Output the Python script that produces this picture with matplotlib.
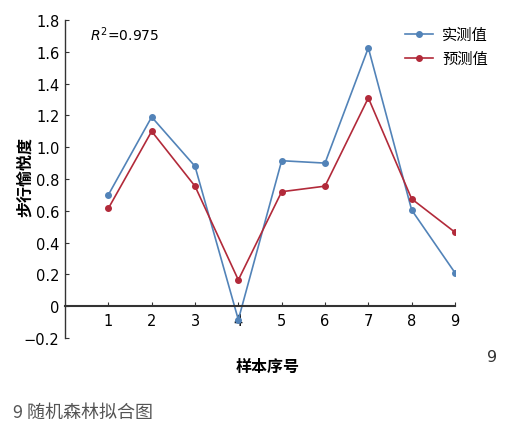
import matplotlib
matplotlib.use("Agg")
import matplotlib.pyplot as plt

plt.rcParams['font.family'] = ['Noto Sans CJK SC', 'DejaVu Sans']

samples = [1, 2, 3, 4, 5, 6, 7, 8, 9]
measured = [0.70, 1.19, 0.88, -0.085, 0.915, 0.90, 1.625, 0.605, 0.21]
predicted = [0.615, 1.10, 0.755, 0.165, 0.72, 0.755, 1.31, 0.675, 0.465]
yticks = [-0.2, 0, 0.2, 0.4, 0.6, 0.8, 1.0, 1.2, 1.4, 1.6, 1.8]
ytick_labels = ['\u22120.2', '0', '0.2', '0.4', '0.6', '0.8', '1.0', '1.2', '1.4', '1.6', '1.8']

W, H = 529, 427
fig = plt.figure(figsize=(W / 100, H / 100), dpi=100)
ax = fig.add_axes([65 / W, (H - 339) / H, (455 - 65) / W, (339 - 21) / H])

blue = '#5283b8'
red = '#b22a3a'
ax.plot(samples, measured, color=blue, lw=1.2, marker='o', ms=4, label='实测值')
ax.plot(samples, predicted, color=red, lw=1.2, marker='o', ms=4, label='预测值')

ax.set_xlim(0, 9)
ax.set_ylim(-0.2, 1.8)
ax.spines['top'].set_visible(False)
ax.spines['right'].set_visible(False)
ax.spines['bottom'].set_position(('data', 0))
ax.spines['bottom'].set_linewidth(1.5)
ax.spines['bottom'].set_color('#333333')
ax.spines['left'].set_linewidth(1.0)
ax.spines['left'].set_color('#333333')

ax.set_xticks(samples)
ax.set_xticklabels([str(s) for s in samples], fontsize=10.5, family=['DejaVu Sans'])
ax.set_yticks(yticks)
ax.set_yticklabels(ytick_labels, fontsize=10.5, family=['DejaVu Sans'])
ax.tick_params(axis='x', direction='in', length=3, pad=5, color='#333333')
ax.tick_params(axis='y', direction='in', length=3, pad=4, color='#333333')

leg = ax.legend(loc='upper left', bbox_to_anchor=((405 - 65) / 390, (339 - 27) / 318),
                frameon=False, fontsize=11, handlelength=1.85, handletextpad=0.6,
                labelspacing=0.45, borderpad=0, borderaxespad=0)

ax.text(0.065, 0.958, r'$R^2$=0.975', transform=ax.transAxes, fontsize=10,
        ha='left', va='center', family=['DejaVu Sans'])

fig.text(268 / W, 1 - 367 / H, '样本序号', ha='center', va='center', fontsize=11.5, fontweight='bold')
fig.text(25 / W, 1 - 177 / H, '步行愉悦度', ha='center', va='center', fontsize=11.5,
         fontweight='bold', rotation=90)
fig.text(492 / W, 1 - 358 / H, '9', ha='center', va='center', fontsize=11.5, color='#333333',
         family=['DejaVu Sans'])
fig.text(13 / W, 1 - 413 / H, '9 随机森林拟合图', ha='left', va='center', fontsize=13,
         color='#555555')

fig.savefig('out.png', dpi=100)
